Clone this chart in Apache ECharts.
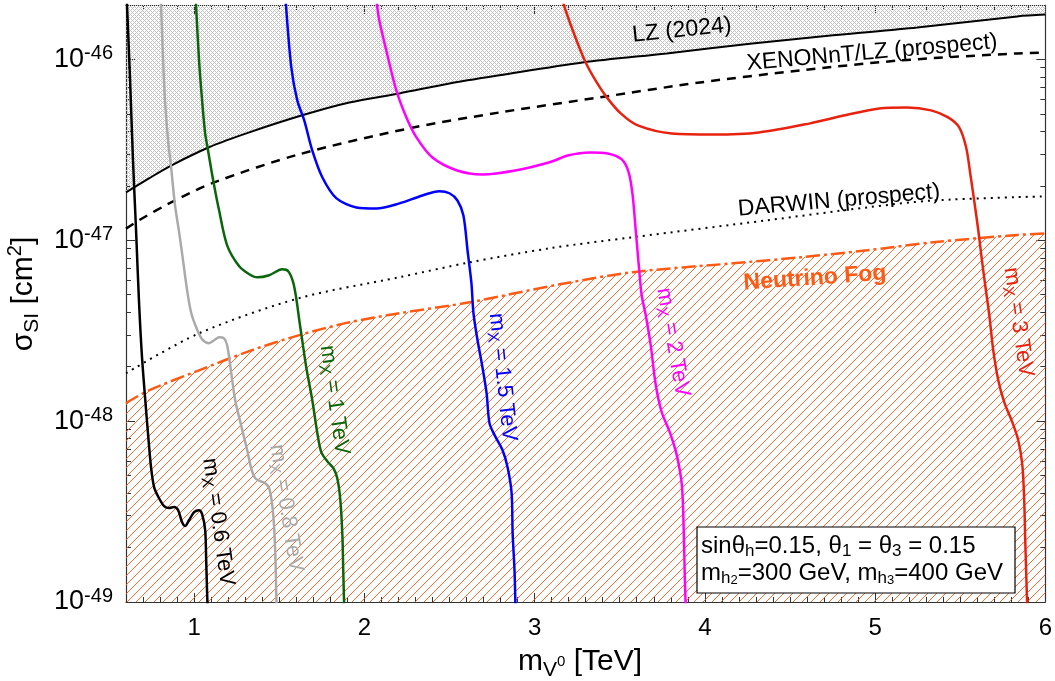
<!DOCTYPE html>
<html>
<head>
<meta charset="utf-8">
<script src="https://cdn.jsdelivr.net/npm/echarts/dist/echarts.min.js"></script>
<style>
  html, body { margin: 0; padding: 0; background: #ffffff; }
  #chart { width: 1055px; height: 681px; }
</style>
</head>
<body>
<div id="chart"></div>
<script>
// Spin-independent DM–nucleon cross section versus m_V0, with direct-detection limits.
// Cross sections are given in cm^2; they are plotted in units of 1e-49 cm^2 on a log axis.
const SIGMA_UNIT = 1e-49;
const X_MIN = 0.6, X_MAX = 6;
const Y_MIN = 1e-49, Y_MAX = 2e-46;
const xTickValues = [1, 2, 3, 4, 5, 6];
const yTickExponents = [-49, -48, -47, -46];

// Experimental limits and prospects: [m_V0 (TeV), sigma_SI (cm^2)]
const lz2024 = [[0.6,1.84e-47],[0.735,2.20e-47],[0.865,2.59e-47],[1.088,3.27e-47],[1.324,3.95e-47],[1.635,4.91e-47],[1.912,5.78e-47],[2.206,6.49e-47],[2.5,7.36e-47],[2.794,8.17e-47],[3.282,9.62e-47],[3.776,1.08e-46],[4.265,1.22e-46],[4.753,1.36e-46],[5.247,1.50e-46],[5.835,1.73e-46],[6.0,1.77e-46]];
const xenonLzProspect = [[0.6,1.16e-47],[0.676,1.29e-47],[0.865,1.62e-47],[1.118,2.09e-47],[1.618,2.99e-47],[2.265,4.16e-47],[2.794,5.09e-47],[3.382,6.17e-47],[3.971,7.46e-47],[4.559,8.69e-47],[5.147,9.87e-47],[5.835,1.08e-46],[6.0,1.09e-46]];
const darwinProspect = [[0.6,1.84e-48],[1.029,3.06e-48],[1.618,4.79e-48],[2.206,6.25e-48],[2.618,7.55e-48],[3.088,9.03e-48],[3.576,1.04e-47],[4.365,1.29e-47],[4.953,1.52e-47],[5.341,1.66e-47],[6.0,1.75e-47]];
const neutrinoFog = [[0.6,1.26e-48],[0.735,1.48e-48],[1.029,1.91e-48],[1.324,2.44e-48],[1.618,2.99e-48],[1.912,3.52e-48],[2.206,3.95e-48],[2.618,4.54e-48],[3.147,5.71e-48],[3.576,6.66e-48],[4.165,7.46e-48],[4.559,8.05e-48],[4.953,8.81e-48],[5.341,9.75e-48],[5.835,1.07e-47],[6.0,1.09e-47]];

// Model predictions for fixed m_X
const mX06 = [[0.605,2.1e-46],[0.624,7.66e-47],[0.641,2.78e-47],[0.659,1.14e-47],[0.676,4.66e-48],[0.694,2.26e-48],[0.718,1.15e-48],[0.735,7.37e-49],[0.747,5.57e-49],[0.765,4.32e-49],[0.794,3.75e-49],[0.824,3.39e-49],[0.853,3.31e-49],[0.882,3.35e-49],[0.906,3.22e-49],[0.929,2.77e-49],[0.947,2.63e-49],[0.971,2.84e-49],[1.0,3.14e-49],[1.029,3.22e-49],[1.047,3.06e-49],[1.065,2.50e-49],[1.071,1.71e-49],[1.076,1.16e-49],[1.079,0.95e-49]];
const mX08 = [[0.805,2.1e-46],[0.818,9.9e-47],[0.829,5.94e-47],[0.847,3.57e-47],[0.865,2.53e-47],[0.888,1.56e-47],[0.912,1.11e-47],[0.935,7.75e-48],[0.959,5.29e-48],[0.982,4.00e-48],[1.012,3.31e-48],[1.047,2.84e-48],[1.088,2.70e-48],[1.118,2.80e-48],[1.147,2.91e-48],[1.176,2.87e-48],[1.194,2.63e-48],[1.212,2.04e-48],[1.241,1.31e-48],[1.276,9.5e-49],[1.312,6.91e-49],[1.335,5.50e-49],[1.359,4.84e-49],[1.388,4.66e-49],[1.418,4.54e-49],[1.441,4.26e-49],[1.459,3.43e-49],[1.471,2.50e-49],[1.479,1.60e-49],[1.482,1.16e-49],[1.485,0.92e-49]];
const mX10 = [[1.01,2.1e-46],[1.029,9.9e-47],[1.047,5.94e-47],[1.065,3.90e-47],[1.082,3.14e-47],[1.112,2.15e-47],[1.147,1.46e-47],[1.194,9.38e-48],[1.265,7.18e-48],[1.324,6.49e-48],[1.371,6.24e-48],[1.441,6.41e-48],[1.518,6.91e-48],[1.553,6.74e-48],[1.582,5.86e-48],[1.6,4.78e-48],[1.618,3.61e-48],[1.635,2.80e-48],[1.659,1.98e-48],[1.694,1.31e-48],[1.724,8.58e-49],[1.747,6.74e-49],[1.782,6.01e-49],[1.818,5.50e-49],[1.841,4.84e-49],[1.859,3.66e-49],[1.871,2.34e-49],[1.876,1.50e-49],[1.882,0.92e-49]];
const mX15 = [[1.538,2.1e-46],[1.571,9.03e-47],[1.606,5.94e-47],[1.647,4.60e-47],[1.694,3.14e-47],[1.753,2.23e-47],[1.835,1.71e-47],[1.953,1.52e-47],[2.071,1.50e-47],[2.206,1.60e-47],[2.341,1.77e-47],[2.441,1.87e-47],[2.5,1.82e-47],[2.547,1.66e-47],[2.582,1.37e-47],[2.606,8.81e-48],[2.629,5.79e-48],[2.641,3.95e-48],[2.665,2.80e-48],[2.694,1.98e-48],[2.718,1.43e-48],[2.735,9.75e-49],[2.765,8.37e-49],[2.812,6.91e-49],[2.841,5.57e-49],[2.865,4.00e-49],[2.871,2.41e-49],[2.882,1.50e-49],[2.888,0.92e-49]];
const mX20 = [[2.071,2.12e-46],[2.088,1.64e-46],[2.129,1.12e-46],[2.188,6.74e-47],[2.247,4.78e-47],[2.306,3.71e-47],[2.4,2.87e-47],[2.541,2.44e-47],[2.694,2.31e-47],[2.894,2.44e-47],[3.088,2.70e-47],[3.2,2.95e-47],[3.324,3.06e-47],[3.429,3.02e-47],[3.512,2.80e-47],[3.553,2.37e-47],[3.576,1.77e-47],[3.594,1.14e-47],[3.612,7.27e-48],[3.629,4.97e-48],[3.653,3.85e-48],[3.682,2.63e-48],[3.712,1.58e-48],[3.747,1.12e-48],[3.794,8.69e-49],[3.835,6.49e-49],[3.865,4.43e-49],[3.876,2.50e-49],[3.882,1.41e-49],[3.888,0.92e-49]];
const mX30 = [[3.165,2.12e-46],[3.182,1.87e-46],[3.235,1.36e-46],[3.3,9.62e-47],[3.365,7.46e-47],[3.424,6.17e-47],[3.506,5.03e-47],[3.606,4.32e-47],[3.806,3.90e-47],[4.053,3.85e-47],[4.318,3.95e-47],[4.618,4.43e-47],[4.824,4.91e-47],[5.024,5.36e-47],[5.188,5.43e-47],[5.329,5.23e-47],[5.429,4.78e-47],[5.494,4.21e-47],[5.535,3.26e-47],[5.559,2.34e-47],[5.582,1.66e-47],[5.606,1.14e-47],[5.624,8.26e-48],[5.647,5.64e-48],[5.671,3.85e-48],[5.694,2.47e-48],[5.724,1.68e-48],[5.759,1.27e-48],[5.806,9.87e-49],[5.841,7.85e-49],[5.865,5.71e-49],[5.876,3.66e-49],[5.882,2.20e-49],[5.888,1.41e-49],[5.894,0.92e-49]];

const FONT = '"Liberation Sans", Arial, Helvetica, sans-serif';
const FOG_COLOR = '#ff5a14';

function toPlot(points) {
  return points.map(p => [p[0], p[1] / SIGMA_UNIT]);
}

// Fine grey cross-hatch for the excluded region
function crossHatch() {
  const s = 4;
  const c = document.createElement('canvas');
  c.width = s; c.height = s;
  const g = c.getContext('2d');
  g.fillStyle = '#c2c2c2';
  for (let i = 0; i < s; i++) {
    g.fillRect(i, i, 1, 1);
    g.fillRect(i, (s - i) % s, 1, 1);
  }
  return c;
}

// Diagonal orange hatch for the neutrino fog
function diagonalHatch() {
  const s = 9;
  const c = document.createElement('canvas');
  c.width = s; c.height = s;
  const g = c.getContext('2d');
  g.strokeStyle = FOG_COLOR;
  g.lineWidth = 0.9;
  g.beginPath();
  g.moveTo(0, s); g.lineTo(s, 0);
  g.moveTo(-1, 1); g.lineTo(1, -1);
  g.moveTo(s - 1, s + 1); g.lineTo(s + 1, s - 1);
  g.stroke();
  return c;
}

const xMinorTicks = [];
for (let i = 7; i < 60; i++) if (i % 10 !== 0) xMinorTicks.push(i / 10);

const yMajorTicks = yTickExponents.map(e => Math.pow(10, e) / SIGMA_UNIT);
const yMinorTicks = [];
yMajorTicks.forEach(base => {
  for (let k = 2; k <= 9; k++) {
    const v = Math.round(k * base);
    if (v < Y_MAX / SIGMA_UNIT - 1e-6) yMinorTicks.push(v);
  }
});

const axisLine = { color: '#333', width: 1.2 };
const tickLine = { color: '#333', width: 1 };

function xAxisDef(pos, major) {
  return {
    type: 'value', min: X_MIN, max: X_MAX, position: pos, gridIndex: 0,
    axisLine: { show: major, lineStyle: axisLine },
    axisTick: { show: true, inside: true, length: major ? 9 : 5,
                customValues: major ? xTickValues : xMinorTicks, lineStyle: tickLine },
    axisLabel: { show: major && pos === 'bottom', customValues: xTickValues,
                 fontFamily: FONT, fontSize: 24, color: '#000', margin: 14,
                 formatter: v => String(Math.round(v)) },
    splitLine: { show: false }
  };
}

function yAxisDef(pos, major) {
  return {
    type: 'log', logBase: 10, min: Y_MIN / SIGMA_UNIT, max: Y_MAX / SIGMA_UNIT,
    position: pos, gridIndex: 0,
    axisLine: { show: major, lineStyle: axisLine },
    axisTick: { show: true, inside: true, length: major ? 9 : 5,
                customValues: major ? yMajorTicks : yMinorTicks, lineStyle: tickLine },
    axisLabel: {
      show: major && pos === 'left', customValues: yMajorTicks, margin: 13,
      fontFamily: FONT, fontSize: 27, lineHeight: 32, color: '#000',
      formatter: v => '10{sup|' + (Math.round(Math.log10(v)) + Math.round(Math.log10(SIGMA_UNIT))) + '}',
      rich: { sup: { fontFamily: FONT, fontSize: 20, lineHeight: 20, verticalAlign: 'top', color: '#000' } }
    },
    splitLine: { show: false }
  };
}

function curve(name, data, color, width, dash, extra) {
  return Object.assign({
    name: name, type: 'line', data: toPlot(data), showSymbol: false, smooth: 0.3,
    lineStyle: { color: color, width: width, type: dash || 'solid' },
    z: 3, silent: true
  }, extra || {});
}

const chart = echarts.init(document.getElementById('chart'), null, { renderer: 'canvas' });

chart.setOption({
  animation: false,
  backgroundColor: '#ffffff',
  grid: { left: 126, right: 9, top: 5, bottom: 79, containLabel: false },
  xAxis: [xAxisDef('bottom', true), xAxisDef('bottom', false), xAxisDef('top', true), xAxisDef('top', false)],
  yAxis: [yAxisDef('left', true), yAxisDef('left', false), yAxisDef('right', true), yAxisDef('right', false)],
  series: [
    curve('LZ (2024)', lz2024, '#000000', 2, 'solid', {
      z: 1, areaStyle: { origin: 'end', opacity: 1, color: { image: crossHatch(), repeat: 'repeat' } }
    }),
    curve('Neutrino Fog', neutrinoFog, FOG_COLOR, 2.5, [14, 4, 3, 4], {
      z: 1, areaStyle: { origin: 'start', opacity: 1, color: { image: diagonalHatch(), repeat: 'repeat' } }
    }),
    curve('XENONnT/LZ (prospect)', xenonLzProspect, '#000000', 2.5, [9, 7]),
    curve('DARWIN (prospect)', darwinProspect, '#000000', 2, [2, 5]),
    curve('mX = 0.6 TeV', mX06, '#000000', 2.5),
    curve('mX = 0.8 TeV', mX08, '#aaaaaa', 2.5),
    curve('mX = 1 TeV', mX10, '#0a660a', 2.5),
    curve('mX = 1.5 TeV', mX15, '#0000ff', 2.5),
    curve('mX = 2 TeV', mX20, '#ff00ff', 2.5),
    curve('mX = 3 TeV', mX30, '#e8220f', 2.5)
  ]
});

// Text annotations, anchored in data coordinates
const deg = Math.PI / 180;
const subRich = (size) => ({
  sub: { fontFamily: FONT, fontSize: size, lineHeight: size, verticalAlign: 'bottom' }
});
const annotations = [
  { text: 'LZ (2024)', at: [3.865, 1.45e-46], angle: 6, color: '#000', size: 23 },
  { text: 'XENONnT/LZ (prospect)', at: [4.982, 1.09e-46], angle: 5, color: '#000', size: 23 },
  { text: 'DARWIN (prospect)', at: [4.788, 1.66e-47], angle: 5, color: '#000', size: 23 },
  { text: 'Neutrino Fog', at: [4.647, 6.17e-48], angle: 4, color: FOG_COLOR, size: 23, weight: 'bold' },
  { text: 'm{sub|X} = 0.6 TeV', at: [1.141, 2.77e-49], angle: -82, color: '#000', size: 22 },
  { text: 'm{sub|X} = 0.8 TeV', at: [1.541, 3.31e-49], angle: -81, color: '#aaaaaa', size: 22 },
  { text: 'm{sub|X} = 1 TeV', at: [1.824, 1.31e-48], angle: -82, color: '#0a660a', size: 22 },
  { text: 'm{sub|X} = 1.5 TeV', at: [2.812, 1.75e-48], angle: -84, color: '#0000ff', size: 22 },
  { text: 'm{sub|X} = 2 TeV', at: [3.812, 2.73e-48], angle: -80, color: '#ff00ff', size: 22 },
  { text: 'm{sub|X} = 3 TeV', at: [5.841, 3.53e-48], angle: -82, color: '#e8220f', size: 22 }
];

const graphics = annotations.map(a => {
  const p = chart.convertToPixel({ gridIndex: 0 }, [a.at[0], a.at[1] / SIGMA_UNIT]);
  const rich = subRich(Math.round(a.size * 0.72));
  rich.sub.fill = a.color;
  rich.sub.fontWeight = a.weight || 'normal';
  return {
    type: 'text', x: p[0], y: p[1], rotation: a.angle * deg, z: 50, silent: true,
    style: {
      text: a.text, fill: a.color, fontFamily: FONT, fontSize: a.size, fontWeight: a.weight || 'normal',
      lineHeight: a.size + 6, align: 'center', verticalAlign: 'middle',
      textAlign: 'center', textVerticalAlign: 'middle', rich: rich
    }
  };
});

// Parameter box
const boxRich = {
  s1: { fontFamily: FONT, fontSize: 17, lineHeight: 16, verticalAlign: 'bottom', fill: '#000' },
  s2: { fontFamily: FONT, fontSize: 13, lineHeight: 8, verticalAlign: 'bottom', fill: '#000' }
};
graphics.push({
  type: 'rect', z: 60, silent: true,
  shape: { x: 697, y: 527, width: 318, height: 66 },
  style: { fill: '#ffffff', stroke: '#000000', lineWidth: 1.2 }
});
graphics.push({
  type: 'text', x: 701, y: 546, z: 61, silent: true,
  style: { text: 'sinθ{s1|h}=0.15, θ{s1|1} = θ{s1|3} = 0.15', fill: '#000', fontFamily: FONT, fontSize: 24,
           lineHeight: 28, align: 'left', verticalAlign: 'middle', textAlign: 'left', textVerticalAlign: 'middle', rich: boxRich }
});
graphics.push({
  type: 'text', x: 701, y: 573, z: 61, silent: true,
  style: { text: 'm{s1|h}{s2|2}=300 GeV, m{s1|h}{s2|3}=400 GeV', fill: '#000', fontFamily: FONT, fontSize: 24,
           lineHeight: 28, align: 'left', verticalAlign: 'middle', textAlign: 'left', textVerticalAlign: 'middle', rich: boxRich }
});

// Axis titles
graphics.push({
  type: 'text', x: 580, y: 662, z: 61, silent: true,
  style: { text: 'm{sub|V}{sup|0} [TeV]', fill: '#000', fontFamily: FONT, fontSize: 30, lineHeight: 38,
           align: 'center', verticalAlign: 'middle', textAlign: 'center', textVerticalAlign: 'middle',
           rich: { sub: { fontFamily: FONT, fontSize: 21, lineHeight: 21, verticalAlign: 'bottom', fill: '#000' },
                   sup: { fontFamily: FONT, fontSize: 15, lineHeight: 15, verticalAlign: 'middle', fill: '#000' } } }
});
graphics.push({
  type: 'text', x: 24, y: 294, rotation: 90 * deg, z: 61, silent: true,
  style: { text: 'σ{sub|SI} [cm{sup|2}]', fill: '#000', fontFamily: FONT, fontSize: 30, lineHeight: 38,
           align: 'center', verticalAlign: 'middle', textAlign: 'center', textVerticalAlign: 'middle',
           rich: { sub: { fontFamily: FONT, fontSize: 21, lineHeight: 21, verticalAlign: 'bottom', fill: '#000' },
                   sup: { fontFamily: FONT, fontSize: 20, lineHeight: 20, verticalAlign: 'top', fill: '#000' } } }
});

chart.setOption({ graphic: { elements: graphics } });
</script>
</body>
</html>
